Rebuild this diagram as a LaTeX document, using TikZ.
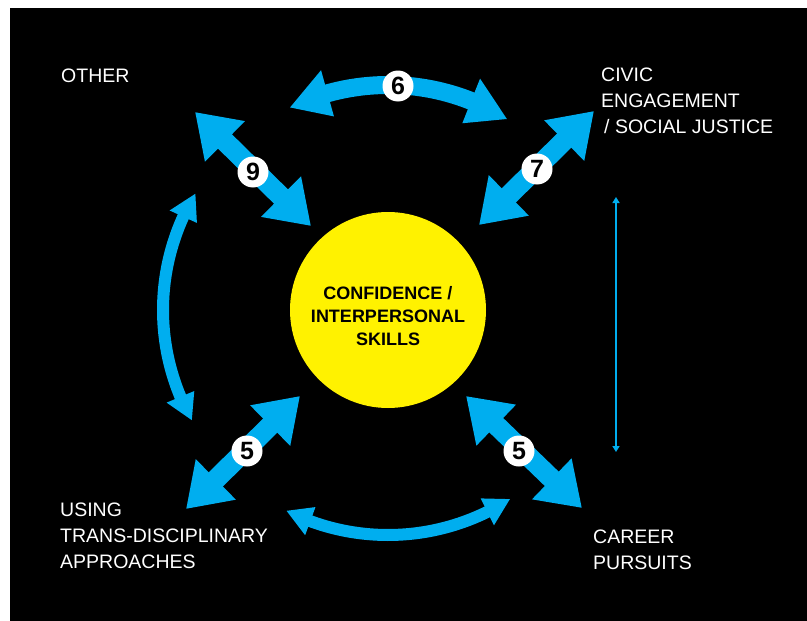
\documentclass[tikz,border=0pt]{standalone}
\usepackage{fontspec}
\setmainfont{Liberation Sans}
\usetikzlibrary{arrows.meta}
\definecolor{cblue}{RGB}{0,174,239}
\definecolor{cyell}{RGB}{255,242,0}
\newcommand\archd[3]{% tip angle, base angle, half width (arc circle centre 388,310 radius 225)
  \fill[cblue] ({388+225*cos(#1)},{310+225*sin(#1)})
    -- ({388+(225+#3)*cos(#2)},{310+(225+#3)*sin(#2)})
    -- ({388+(225-#3)*cos(#2)},{310+(225-#3)*sin(#2)}) -- cycle;}
\begin{document}
\begin{tikzpicture}[x=1pt,y=-1pt,
  bigarrow/.style={draw=cblue, line width=20pt,
    arrows={Triangle[length=42pt,width=54pt,fill=cblue]-Triangle[length=42pt,width=54pt,fill=cblue]}},
  arcshaft/.style={draw=cblue, line width=#1},
  thinarrow/.style={draw=cblue, line width=1.5pt,
    arrows={Triangle[length=6pt,width=7pt,fill=cblue]-Triangle[length=6pt,width=7pt,fill=cblue]}},
  num/.style={circle, fill=white, minimum size=31pt, inner sep=0pt,
    font=\fontsize{25}{25}\selectfont\bfseries, text=black},
  lab/.style={text=white, align=left, anchor=west, inner sep=0pt,
    font=\fontsize{19.5}{26}\selectfont}]
\useasboundingbox (0,0) rectangle (807,621);
\fill[black] (10,8) rectangle (807,621);

% centre
\node[circle, fill=cyell, minimum size=196pt, inner sep=0pt] (c) at (388,310) {};
\node[align=center, inner sep=0pt, font=\fontsize{18}{23}\selectfont\bfseries] (ctext) at (388,316)
  {CONFIDENCE /\\INTERPERSONAL\\SKILLS};

% labels
\node[lab] (other) at (61,76) {OTHER};
\node[lab] (civic) at (601,101) {CIVIC\\ENGAGEMENT\\\hspace{3pt}/ SOCIAL JUSTICE};
\node[lab] (using) at (60,536) {USING\\TRANS-DISCIPLINARY\\APPROACHES};
\node[lab] (career) at (593,549.5) {CAREER\\PURSUITS};

% straight arrow end coordinates
\coordinate (a9a) at (195,112);
\coordinate (a9b) at (311,226);
\coordinate (a7a) at (479,225);
\coordinate (a7b) at (594,111);
\coordinate (a5la) at (186,509);
\coordinate (a5lb) at (300,396);
\coordinate (a5ra) at (466,396);
\coordinate (a5rb) at (582,508);
\coordinate (tva) at (616,197);
\coordinate (tvb) at (616,452);

% straight arrows
\draw[bigarrow] (a9a) -- (a9b);
\draw[bigarrow] (a7a) -- (a7b);
\draw[bigarrow] (a5la) -- (a5lb);
\draw[bigarrow] (a5ra) -- (a5rb);
\draw[thinarrow] (tva) -- (tvb);

% curved arrows (arcs of a circle round the centre)
\draw[arcshaft=18pt] plot[domain=-107:-67, samples=40, smooth] ({388+225*cos(\x)},{310+225*sin(\x)});
\archd{-115.8}{-105.6}{24}
\archd{-58.1}{-68.3}{24}

\draw[arcshaft=12pt] plot[domain=156.5:205, samples=50, smooth] ({388+225*cos(\x)},{310+225*sin(\x)});
\archd{-148.9}{-155.5}{15}
\archd{150.7}{157.3}{15}

\draw[arcshaft=12pt] plot[domain=63:111, samples=40, smooth] ({388+225*cos(\x)},{310+225*sin(\x)});
\archd{116.8}{110.2}{15}
\archd{57.2}{63.8}{15}

% numbers
\node[num] (n9) at (253,172) {9};
\node[num] (n6) at (398,86) {6};
\node[num] (n7) at (537,169) {7};
\node[num] (n5l) at (247,451) {5};
\node[num] (n5r) at (519,451) {5};
\end{tikzpicture}
\end{document}
